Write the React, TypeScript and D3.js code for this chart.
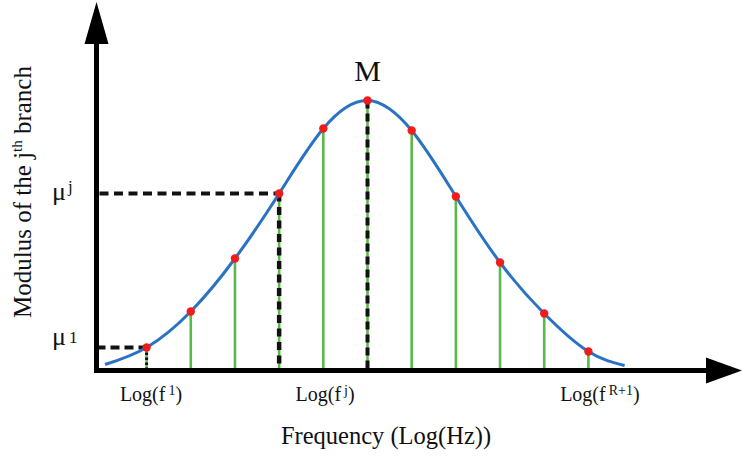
import React from "react";
import * as d3 from "d3";

// Branch index along log-frequency axis (1 .. R+1)
const branchIndex = [1, 2, 3, 4, 5, 6, 7, 8, 9, 10, 11];
// Modulus of each branch (arbitrary units)
const modulus = [23, 59, 112, 177, 242, 270, 240, 174, 108, 57, 19];
// Curve tails beyond the sampled points
const curveStartX = 0.06;
const curveStartY = 6;
const curveEndX = 11.82;
const curveEndY = 5;

// Highlighted points
const firstIdx = 0; // μ1
const jIdx = 3; // μj
const peakIdx = 5; // M

const xTickPos = [1.1, 5.04, 11.26];
const xTickBase = ["Log(f", "Log(f", "Log(f"];
const xTickSup = ["1", "j", "R+1"];

const W = 742;
const H = 461;
const AX_X = 96.5;
const AX_Y = 370.5;

export default function App() {
  const x = d3.scaleLinear().domain([1, 11]).range([146.6, 588.4]);
  const y = d3.scaleLinear().domain([0, 300]).range([AX_Y, AX_Y - 300]);

  const curvePts: [number, number][] = [
    [curveStartX, curveStartY],
    ...branchIndex.map((b, i) => [b, modulus[i]] as [number, number]),
    [curveEndX, curveEndY],
  ];
  const line = d3
    .line<[number, number]>()
    .x((d) => x(d[0]))
    .y((d) => y(d[1]))
    .curve(d3.curveNatural);

  const serif = "'Liberation Serif', 'Times New Roman', serif";
  const px = (i: number) => x(branchIndex[i]);
  const py = (i: number) => y(modulus[i]);

  return (
    <div style={{ position: "absolute", left: 0, top: 0 }}>
      <svg width={W} height={H} style={{ display: "block", background: "#fff" }} fontFamily={serif}>
        {/* green stems */}
        {branchIndex.map((b, i) => (
          <line key={"g" + i} x1={x(b)} x2={x(b)} y1={y(modulus[i])} y2={AX_Y} stroke="#5bb84a" strokeWidth={2.6} />
        ))}
        {/* dashed guides */}
        <line x1={AX_X} x2={px(firstIdx)} y1={py(firstIdx)} y2={py(firstIdx)} stroke="#111" strokeWidth={4} strokeDasharray="9 5" />
        <line x1={px(firstIdx)} x2={px(firstIdx)} y1={py(firstIdx)} y2={AX_Y} stroke="#111" strokeWidth={3} strokeDasharray="2.5 2.5" />
        <line x1={AX_X + 3} x2={px(jIdx)} y1={py(jIdx)} y2={py(jIdx)} stroke="#111" strokeWidth={4} strokeDasharray="9 5.5" />
        <line x1={px(jIdx)} x2={px(jIdx)} y1={py(jIdx)} y2={AX_Y} stroke="#111" strokeWidth={4.5} strokeDasharray="8 5.5" />
        <line x1={px(peakIdx)} x2={px(peakIdx)} y1={py(peakIdx)} y2={AX_Y} stroke="#111" strokeWidth={4} strokeDasharray="8 5" />
        {/* curve */}
        <path d={line(curvePts) || ""} fill="none" stroke="#2a72c4" strokeWidth={3} />
        {/* dots */}
        {branchIndex.map((b, i) => (
          <circle key={"c" + i} cx={x(b)} cy={y(modulus[i])} r={4.2} fill="#f01c1c" />
        ))}
        {/* axes */}
        <line x1={AX_X} x2={AX_X} y1={40} y2={AX_Y + 2.5} stroke="#000" strokeWidth={5} />
        <polygon points={`${AX_X},2 ${AX_X - 12},44 ${AX_X + 12},44`} fill="#000" />
        <line x1={AX_X - 2.5} x2={710} y1={AX_Y} y2={AX_Y} stroke="#000" strokeWidth={5} />
        <polygon points={`742,${AX_Y} 706,${AX_Y - 13} 706,${AX_Y + 13}`} fill="#000" />
        {/* M label */}
        <text x={px(peakIdx)} y={81} fontSize={30} textAnchor="middle" fill="#111">M</text>
        {/* mu labels */}
        <text x={52} y={200} fontSize={26} fill="#111">
          μ<tspan fontSize={17} dy={-8} dx={2}>j</tspan>
        </text>
        <text x={52} y={345} fontSize={26} fill="#111">
          μ<tspan fontSize={17} dy={-2} dx={3}>1</tspan>
        </text>
        {/* x tick labels */}
        {xTickPos.map((p, i) => (
          <text key={"t" + i} x={x(p)} y={401} fontSize={20} textAnchor="middle" fill="#111">
            {xTickBase[i]}
            <tspan fontSize={14} dy={-6} dx={3}>{xTickSup[i]}</tspan>
            <tspan dy={6}>)</tspan>
          </text>
        ))}
        {/* axis titles */}
        <text x={386} y={444} fontSize={24.5} textAnchor="middle" fill="#111">Frequency (Log(Hz))</text>
        <text transform="translate(31,192) rotate(-90)" fontSize={25} textAnchor="middle" fill="#111">
          Modulus of the j<tspan fontSize={15} dy={-9}>th</tspan>
          <tspan dy={9}> branch</tspan>
        </text>
      </svg>
    </div>
  );
}
